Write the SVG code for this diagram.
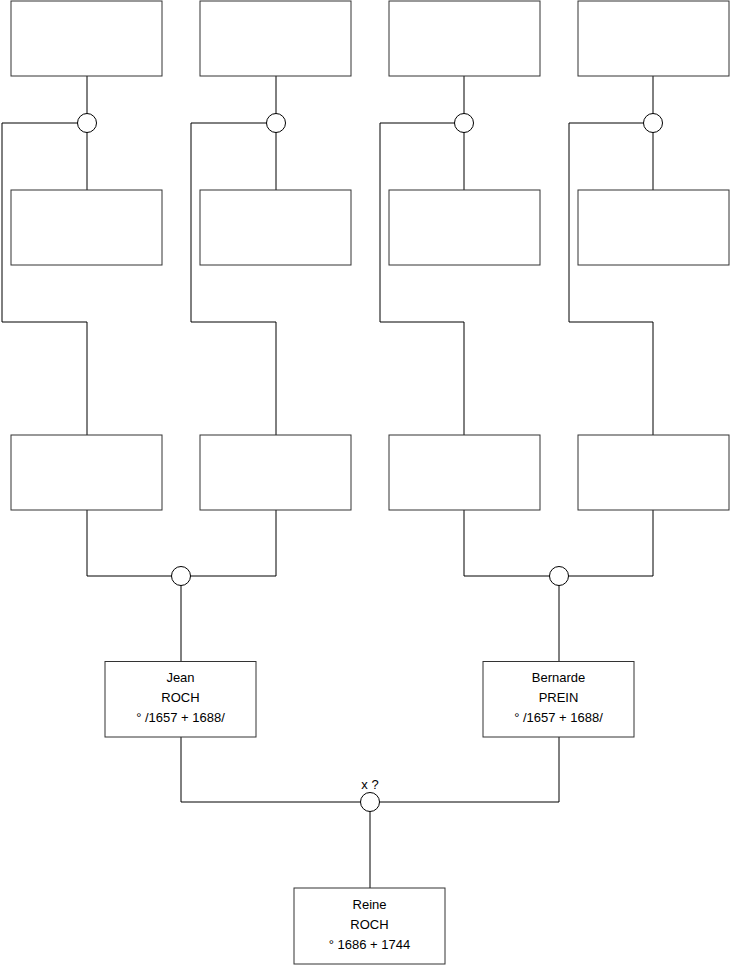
<svg xmlns="http://www.w3.org/2000/svg" width="740" height="975" viewBox="0 0 740 975">
<style>
.box{fill:#fff;stroke:#333;stroke-width:1}
.ln{fill:none;stroke:#000;stroke-width:1}
.ring{fill:#fff;stroke:#000;stroke-width:1}
text{font-family:"Liberation Sans",Arial,sans-serif;font-size:13px;fill:#000;text-anchor:middle}
</style>
<rect width="740" height="975" fill="#fff"/>
<g id="connectors">
<path class="ln" d="M87 76V190M87 123H2V322H87V435"/>
<path class="ln" d="M276 76V190M276 123H191V322H276V435"/>
<path class="ln" d="M464 76V190M464 123H380V322H464V435"/>
<path class="ln" d="M653 76V190M653 123H569V322H653V435"/>
<path class="ln" d="M87 510V576H276V510M181 576V661"/>
<path class="ln" d="M464 510V576H653V510M559 576V661"/>
<path class="ln" d="M181 737V802H559V737M370 802V888"/>
</g>
<g id="u1"><circle class="ring" cx="87" cy="123" r="9.5"/></g>
<g id="u2"><circle class="ring" cx="276" cy="123" r="9.5"/></g>
<g id="u3"><circle class="ring" cx="464" cy="123" r="9.5"/></g>
<g id="u4"><circle class="ring" cx="653" cy="123" r="9.5"/></g>
<g id="u5"><circle class="ring" cx="181" cy="576" r="9.5"/></g>
<g id="u6"><circle class="ring" cx="559" cy="576" r="9.5"/></g>
<g id="u7"><circle class="ring" cx="370" cy="802" r="9.5"/><text x="370" y="789">x ?</text></g>
<g id="p1"><rect class="box" x="11" y="1" width="151" height="75"/></g>
<g id="p2"><rect class="box" x="200" y="1" width="151" height="75"/></g>
<g id="p3"><rect class="box" x="389" y="1" width="151" height="75"/></g>
<g id="p4"><rect class="box" x="578" y="1" width="151" height="75"/></g>
<g id="p5"><rect class="box" x="11" y="190" width="151" height="75"/></g>
<g id="p6"><rect class="box" x="200" y="190" width="151" height="75"/></g>
<g id="p7"><rect class="box" x="389" y="190" width="151" height="75"/></g>
<g id="p8"><rect class="box" x="578" y="190" width="151" height="75"/></g>
<g id="p9"><rect class="box" x="11" y="435" width="151" height="75"/></g>
<g id="p10"><rect class="box" x="200" y="435" width="151" height="75"/></g>
<g id="p11"><rect class="box" x="389" y="435" width="151" height="75"/></g>
<g id="p12"><rect class="box" x="578" y="435" width="151" height="75"/></g>
<g id="jean"><rect class="box" x="105" y="661.5" width="151" height="75.5"/>
<text x="180.5" y="682">Jean</text><text x="180.5" y="702">ROCH</text><text x="180.5" y="722">° /1657 + 1688/</text></g>
<g id="bernarde"><rect class="box" x="483" y="661.5" width="151" height="75.5"/>
<text x="558.5" y="682">Bernarde</text><text x="558.5" y="702">PREIN</text><text x="558.5" y="722">° /1657 + 1688/</text></g>
<g id="reine"><rect class="box" x="294" y="888" width="151" height="76"/>
<text x="369.5" y="909">Reine</text><text x="369.5" y="929">ROCH</text><text x="369.5" y="949">° 1686 + 1744</text></g>
</svg>
